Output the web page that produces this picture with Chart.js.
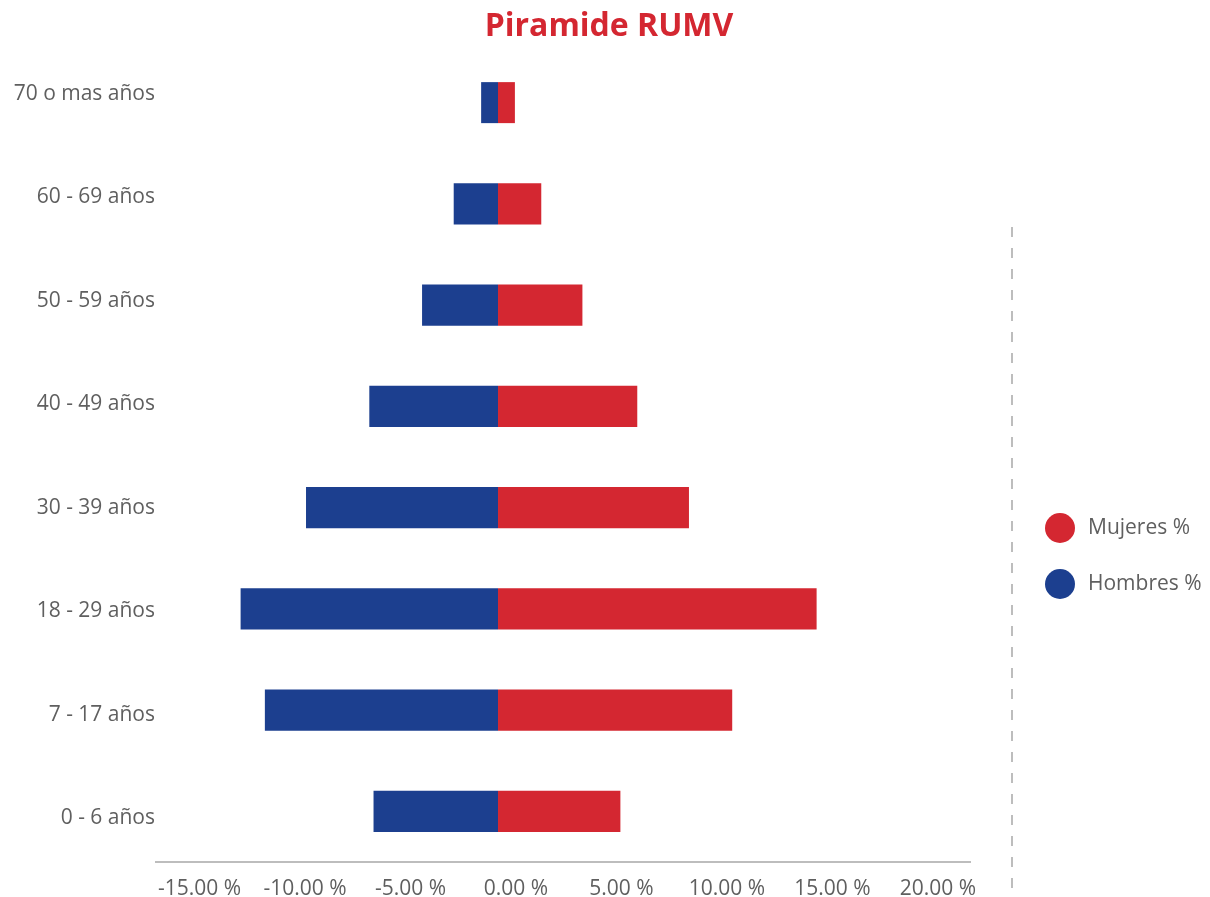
<!DOCTYPE html>
<html>
<head>
<meta charset="utf-8">
<script src="https://cdn.jsdelivr.net/npm/chart.js@4.4.1/dist/chart.umd.min.js"></script>
<style>
  html, body { margin: 0; padding: 0; background: #ffffff; }
  #wrap { width: 1210px; height: 897px; position: relative; }
</style>
</head>
<body>
<div id="wrap"><canvas id="c" width="1210" height="897"></canvas></div>
<script>
// ---- data ----
const categories = ["70 o mas años", "60 - 69 años", "50 - 59 años", "40 - 49 años", "30 - 39 años", "18 - 29 años", "7 - 17 años", "0 - 6 años"];
const mujeresPct = [0.8, 2.05, 4.0, 6.6, 9.05, 15.1, 11.1, 5.8];
const hombresPct = [-0.8, -2.1, -3.6, -6.1, -9.1, -12.2, -11.05, -5.9];
const xTickValues = [-15, -10, -5, 0, 5, 10, 15, 20];
const seriesNames = ["Mujeres %", "Hombres %"];
const seriesColors = ["#d42731", "#1c3f8f"];
const titleText = "Piramide RUMV";

const textColor = "#5f5f5f";
const fontFamily = "'Open Sans', 'Noto Sans', sans-serif";

const customDecor = {
  id: 'customDecor',
  afterDraw(chart) {
    const ctx = chart.ctx;
    ctx.save();
    // title
    ctx.fillStyle = '#d42731';
    ctx.font = "bold 32px " + fontFamily;
    ctx.textAlign = 'center';
    ctx.textBaseline = 'middle';
    ctx.fillText(titleText, 609, 27);
    // dashed separator
    ctx.strokeStyle = '#bdbdbd';
    ctx.lineWidth = 2;
    ctx.setLineDash([10, 11]);
    ctx.beginPath();
    ctx.moveTo(1012, 227);
    ctx.lineTo(1012, 897);
    ctx.stroke();
    ctx.setLineDash([]);
    // legend
    const ys = [528, 584];
    chart.data.datasets.forEach((ds, i) => {
      ctx.fillStyle = ds.backgroundColor;
      ctx.beginPath();
      ctx.arc(1060, ys[i], 15, 0, Math.PI * 2);
      ctx.fill();
      ctx.fillStyle = textColor;
      ctx.font = "21px " + fontFamily;
      ctx.textAlign = 'left';
      ctx.textBaseline = 'middle';
      ctx.fillText(ds.label, 1088, ys[i]);
    });
    ctx.restore();
  }
};

new Chart(document.getElementById('c'), {
  type: 'bar',
  data: {
    labels: categories,
    datasets: [
      { label: seriesNames[0], data: mujeresPct, backgroundColor: seriesColors[0], borderWidth: 0 },
      { label: seriesNames[1], data: hombresPct, backgroundColor: seriesColors[1], borderWidth: 0 }
    ]
  },
  options: {
    indexAxis: 'y',
    responsive: false,
    animation: false,
    barPercentage: 0.405,
    categoryPercentage: 1.0,
    layout: { padding: { left: 0, right: 240, top: 52, bottom: 0 } },
    plugins: {
      legend: { display: false },
      tooltip: { enabled: false },
      title: { display: false }
    },
    scales: {
      x: {
        stacked: true,
        min: -16.21,
        max: 22.37,
        afterBuildTicks(axis) {
          axis.ticks = xTickValues.map(v => ({ value: v }));
        },
        afterFit(axis) { axis.height = 35; },
        grid: { display: false, drawTicks: false },
        border: { display: true, color: '#bdbdbd', width: 2 },
        ticks: {
          color: textColor,
          font: { family: fontFamily, size: 21 },
          padding: 14,
          labelOffset: 18,
          maxRotation: 0,
          autoSkip: false,
          callback: (v) => Number(v).toFixed(2) + ' %'
        }
      },
      y: {
        stacked: true,
        position: 'left',
        afterFit(axis) { axis.width = 0; },
        grid: { display: false, drawTicks: false },
        border: { display: false },
        ticks: { display: false }
      },
      yLabels: {
        type: 'linear',
        position: 'left',
        reverse: true,
        offset: false,
        beginAtZero: false,
        bounds: 'data',
        afterDataLimits(axis) { axis.min = -0.406; axis.max = 7.426; },
        afterBuildTicks(axis) {
          axis.ticks = categories.map((c, i) => ({ value: i }));
        },
        afterFit(axis) { axis.width = 156; },
        grid: { display: false, drawTicks: false },
        border: { display: false },
        ticks: {
          color: textColor,
          font: { family: fontFamily, size: 21 },
          padding: 1,
          autoSkip: false,
          callback: (v) => categories[v] !== undefined ? categories[v] : ''
        }
      }
    }
  },
  plugins: [customDecor]
});
</script>
</body>
</html>
